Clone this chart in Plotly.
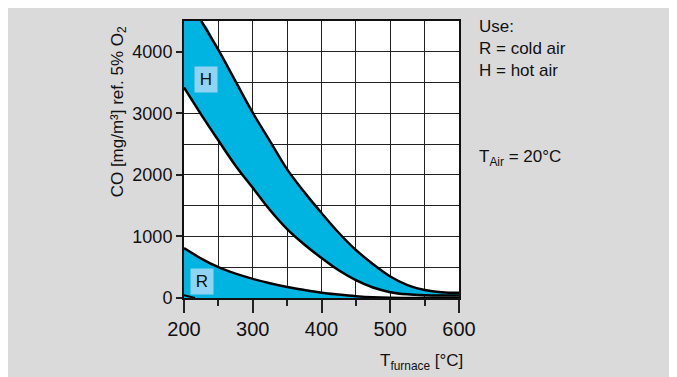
import plotly.graph_objects as go

# Ablesewerte aus dem Diagramm
t_hot_hi = [225, 250, 275, 300, 325, 350, 375, 400, 425, 450, 475, 500, 525, 550, 575, 600]
co_hot_hi = [4500, 4030, 3520, 3010, 2550, 2090, 1720, 1380, 1060, 780, 550, 350, 210, 130, 95, 85]

t_hot_lo = [200, 225, 250, 275, 300, 325, 350, 375, 400, 425, 450, 475, 500, 525, 550, 575, 600]
co_hot_lo = [3420, 2980, 2560, 2150, 1790, 1430, 1120, 870, 650, 450, 290, 170, 95, 60, 45, 40, 40]

t_cold = [200, 225, 250, 275, 300, 325, 350, 375, 400, 425, 450, 475, 500, 525, 550, 575, 600]
co_cold = [810, 640, 500, 395, 310, 240, 180, 130, 85, 55, 30, 12, 3, 0, 0, 0, 0]

t_cold_lo = [200, 208, 216]
co_cold_lo = [45, 20, 0]

x_ticks = [200, 300, 400, 500, 600]
y_ticks = [0, 1000, 2000, 3000, 4000]

CYAN = "#00b4e1"
LIGHT = "#8fd4f2"
GRAY = "#dadada"
FONT = "Liberation Sans, Arial, sans-serif"

# Plotbereich: 275 x 279 px
PW, PH = 275, 279
L, T = 176, 11

fig = go.Figure()

# H-Band (oben bei 4500 abgeschnitten)
band_x = [t_hot_lo[0]] + t_hot_hi + t_hot_lo[::-1]
band_y = [4500] + co_hot_hi + co_hot_lo[::-1]
fig.add_trace(go.Scatter(x=band_x, y=band_y, fill="toself", fillcolor=CYAN,
                         mode="lines", line=dict(width=0, shape="spline"), hoverinfo="skip"))

# R-Fläche
fig.add_trace(go.Scatter(x=t_cold, y=co_cold, fill="tozeroy", fillcolor=CYAN,
                         mode="lines", line=dict(color="black", width=2.5, shape="spline")))

fig.add_trace(go.Scatter(x=t_hot_hi, y=co_hot_hi, mode="lines",
                         line=dict(color="black", width=2.5, shape="spline")))
fig.add_trace(go.Scatter(x=t_hot_lo, y=co_hot_lo, mode="lines",
                         line=dict(color="black", width=2.5, shape="spline")))
fig.add_trace(go.Scatter(x=t_cold_lo, y=co_cold_lo, mode="lines",
                         line=dict(color="black", width=2)))

fig.update_layout(
    width=669, height=369,
    margin=dict(l=L, r=669 - L - PW, t=T, b=369 - T - PH),
    paper_bgcolor=GRAY, plot_bgcolor="white",
    showlegend=False,
    font=dict(family=FONT, color="#111", size=17),
)

fig.update_xaxes(
    range=[200, 600], tickvals=x_ticks, showgrid=True, gridcolor="#222", gridwidth=1.2,
    ticks="outside", ticklen=13, tickwidth=1.5, tickcolor="#222",
    tickfont=dict(size=20), ticklabelstandoff=-1,
    showline=True, linecolor="#111", linewidth=2, mirror=True, zeroline=False,
    minor=dict(dtick=50, ticks="outside", ticklen=6, tickwidth=1.5, tickcolor="#222",
               showgrid=True, gridcolor="#222", gridwidth=1.2),
)
fig.update_yaxes(
    range=[0, 4500], tickvals=y_ticks, showgrid=True, gridcolor="#222", gridwidth=1.2,
    ticks="outside", ticklen=6, tickwidth=1.5, tickcolor="#222",
    tickfont=dict(size=18),
    showline=True, linecolor="#111", linewidth=2, mirror=True, zeroline=False,
    minor=dict(dtick=500, ticks="", showgrid=True, gridcolor="#222", gridwidth=1.2),
)

# Kennzeichnung der Bänder
fig.add_annotation(x=232, y=3545, text="H", showarrow=False, bgcolor=LIGHT,
                   width=20, height=23, font=dict(size=17))
fig.add_annotation(x=226, y=270, text="R", showarrow=False, bgcolor=LIGHT,
                   width=20, height=23, font=dict(size=17))

# Achsentitel
fig.add_annotation(xref="paper", yref="paper", x=-65 / PW, y=187 / PH,
                   xanchor="center", yanchor="middle", textangle=-90,
                   text="CO [mg/m³] ref. 5% O<sub>2</sub>", showarrow=False,
                   font=dict(size=17))
fig.add_annotation(xref="paper", yref="paper", x=281 / PW, xanchor="right",
                   y=-64 / PH, yanchor="middle",
                   text="T<sub>furnace</sub> [°C]", showarrow=False,
                   font=dict(size=17))

# Legende rechts
for txt, py in [("Use:", 24.5), ("R = cold air", 47), ("H = hot air", 69),
                ("T<sub>Air</sub> = 20°C", 156.5)]:
    fig.add_annotation(xref="paper", yref="paper", x=293 / PW, xanchor="left",
                       y=(298 - py) / PH, yanchor="middle", text=txt,
                       showarrow=False, font=dict(size=17))

fig.write_html("out.html")
